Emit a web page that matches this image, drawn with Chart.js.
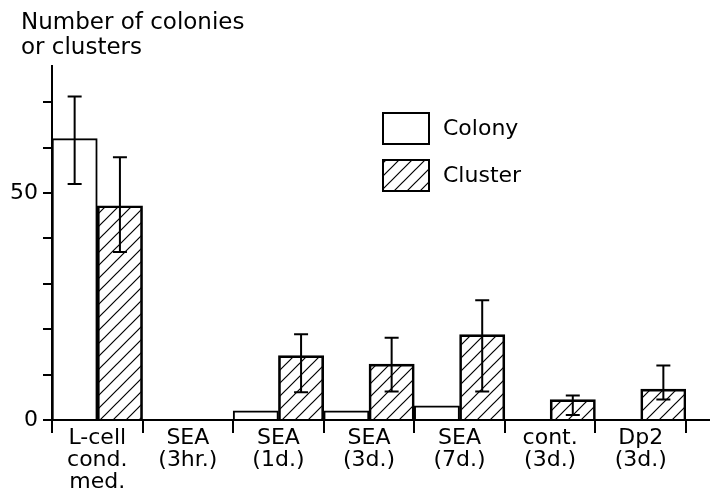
<!DOCTYPE html>
<html>
<head>
<meta charset="utf-8">
<script src="https://cdn.jsdelivr.net/npm/chart.js@4.4.1/dist/chart.umd.min.js"></script>
<style>
  html, body { margin: 0; padding: 0; background: #fff; }
  #wrap { width: 710px; height: 494px; }
</style>
</head>
<body>
<div id="wrap"><canvas id="myBarChart" width="710" height="494"></canvas></div>
<script>
  // categorias y valores
  const categories = [
    ['L-cell', 'cond.', 'med.'],
    ['SEA', '(3hr.)'],
    ['SEA', '(1d.)'],
    ['SEA', '(3d.)'],
    ['SEA', '(7d.)'],
    ['cont.', '(3d.)'],
    ['Dp2', '(3d.)']
  ];
  const colonyValues = [62, 0, 2, 2, 3.1, 0, 0];
  const colonyLow = [52, null, null, null, null, null, null];
  const colonyHigh = [71.3, null, null, null, null, null, null];

  const clusterValues = [47.2, 0, 14.2, 12.3, 18.8, 4.5, 6.8];
  const clusterLow = [37, null, 6.1, 6.3, 6.3, 1.1, 4.5];
  const clusterHigh = [57.9, null, 18.9, 18.1, 26.4, 5.4, 12];

  const yTickLabels = [0, 50];
  const titleLines = ['Number of colonies', 'or clusters'];

  const FONT = 'DejaVu Sans, sans-serif';

  // patron de rayado diagonal
  function hatchPattern() {
    const s = 13;
    const c = document.createElement('canvas');
    c.width = s; c.height = s;
    const g = c.getContext('2d');
    g.strokeStyle = '#000';
    g.lineWidth = 1.2;
    g.beginPath();
    g.moveTo(0, s); g.lineTo(s, 0);
    g.moveTo(-2, 2); g.lineTo(2, -2);
    g.moveTo(s - 2, s + 2); g.lineTo(s + 2, s - 2);
    g.stroke();
    return document.getElementById('myBarChart').getContext('2d').createPattern(c, 'repeat');
  }

  // barras de error
  const errorBarsPlugin = {
    id: 'errorBars',
    afterDatasetsDraw(chart) {
      const ctx = chart.ctx;
      const y = chart.scales.y;
      chart.data.datasets.forEach((ds, i) => {
        const meta = chart.getDatasetMeta(i);
        meta.data.forEach((bar, j) => {
          if (ds.errLow[j] == null) return;
          const yl = y.getPixelForValue(ds.errLow[j]);
          const yh = y.getPixelForValue(ds.errHigh[j]);
          ctx.save();
          ctx.strokeStyle = '#000';
          ctx.lineWidth = 2;
          ctx.beginPath();
          ctx.moveTo(bar.x, yl); ctx.lineTo(bar.x, yh);
          ctx.moveTo(bar.x - 7, yl); ctx.lineTo(bar.x + 7, yl);
          ctx.moveTo(bar.x - 7, yh); ctx.lineTo(bar.x + 7, yh);
          ctx.stroke();
          ctx.restore();
        });
      });
    }
  };

  // titulo del eje, leyenda y prolongacion del eje x
  const decorPlugin = {
    id: 'decor',
    afterDraw(chart) {
      const ctx = chart.ctx;
      const area = chart.chartArea;
      const y0 = chart.scales.y.getPixelForValue(0);
      ctx.save();
      ctx.strokeStyle = '#000';
      ctx.lineWidth = 2;
      ctx.beginPath();
      ctx.moveTo(area.right, y0); ctx.lineTo(chart.width, y0);
      ctx.stroke();

      ctx.fillStyle = '#000';
      ctx.font = '23px ' + FONT;
      ctx.textBaseline = 'alphabetic';
      ctx.textAlign = 'left';
      titleLines.forEach((t, k) => ctx.fillText(t, 21, 29 + k * 25));

      ctx.font = '22px ' + FONT;
      ctx.textBaseline = 'middle';
      chart.data.datasets.forEach((ds, k) => {
        const bx = 383, by = 113 + k * 47;
        ctx.fillStyle = ds.backgroundColor;
        ctx.fillRect(bx, by, 46, 31);
        ctx.lineWidth = 2;
        ctx.strokeRect(bx, by, 46, 31);
        ctx.fillStyle = '#000';
        ctx.fillText(ds.label, bx + 60, by + 16);
      });
      ctx.restore();
    }
  };

  const barChartData = {
    labels: categories,
    datasets: [{
      label: 'Colony',
      data: colonyValues,
      errLow: colonyLow,
      errHigh: colonyHigh,
      backgroundColor: '#ffffff',
      borderColor: '#000',
      borderWidth: 2,
      barPercentage: 1,
      categoryPercentage: 1
    }, {
      label: 'Cluster',
      data: clusterValues,
      errLow: clusterLow,
      errHigh: clusterHigh,
      backgroundColor: hatchPattern(),
      borderColor: '#000',
      borderWidth: 2,
      barPercentage: 1,
      categoryPercentage: 1
    }]
  };

  const barChartConfig = {
    type: 'bar',
    data: barChartData,
    plugins: [errorBarsPlugin, decorPlugin],
    options: {
      responsive: false,
      animation: false,
      layout: { padding: { top: 66, right: 24, left: 0, bottom: 0 } },
      plugins: {
        legend: { display: false },
        tooltip: { enabled: false }
      },
      scales: {
        x: {
          grid: { offset: true, drawOnChartArea: false, tickLength: 13, color: '#000', lineWidth: 2 },
          border: { color: '#000', width: 2 },
          ticks: {
            color: '#000',
            padding: -5,
            maxRotation: 0,
            autoSkip: false,
            font: { family: FONT, size: 22, lineHeight: 0.98 }
          },
          afterFit(scale) { scale.height = 74; }
        },
        y: {
          min: 0,
          max: 78,
          grid: { drawOnChartArea: false, tickLength: 9, color: '#000', lineWidth: 2 },
          border: { color: '#000', width: 2 },
          ticks: {
            stepSize: 10,
            color: '#000',
            padding: 5,
            font: { family: FONT, size: 22 },
            callback: (v) => yTickLabels.includes(v) ? String(v) : ''
          },
          afterBuildTicks(scale) {
            scale.ticks = scale.ticks.filter(t => t.value % 10 === 0);
          },
          afterFit(scale) { scale.width = 52; }
        }
      }
    }
  };

  const barChartCtx = document.getElementById('myBarChart').getContext('2d');
  new Chart(barChartCtx, barChartConfig);
</script>
</body>
</html>
